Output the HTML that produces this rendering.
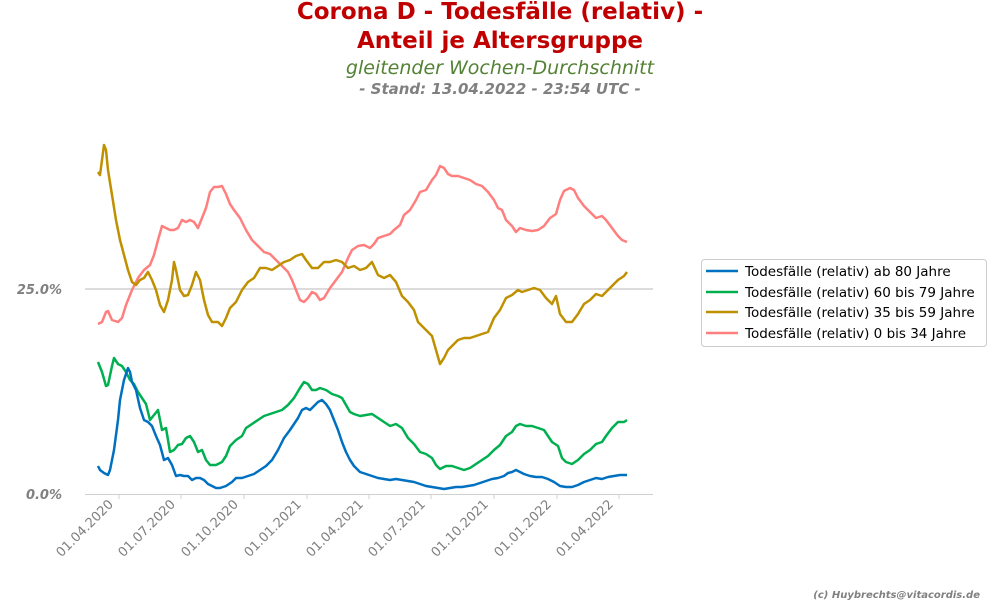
<!DOCTYPE html>
<html><head><meta charset="utf-8"><style>
body{margin:0;background:#fff;width:1000px;height:600px;overflow:hidden;font-family:"Liberation Sans","DejaVu Sans",sans-serif}
</style></head><body>
<svg width="1000" height="600" viewBox="0 0 1000 600" xmlns="http://www.w3.org/2000/svg" font-family="DejaVu Sans, Liberation Sans, sans-serif">
<text x="500" y="19" text-anchor="middle" font-size="23" font-weight="bold" fill="#c00000">Corona D - Todesfälle (relativ) -</text>
<text x="500" y="48" text-anchor="middle" font-size="23" font-weight="bold" fill="#c00000">Anteil je Altersgruppe</text>
<text x="500" y="74" text-anchor="middle" font-size="19" font-style="italic" fill="#548235">gleitender Wochen-Durchschnitt</text>
<text x="500" y="94" text-anchor="middle" font-size="15" font-style="italic" font-weight="bold" fill="#808080">- Stand: 13.04.2022 - 23:54 UTC -</text>
<line x1="85" y1="289" x2="653" y2="289" stroke="#d0d0d0" stroke-width="1.5"/>
<line x1="85" y1="494.5" x2="653" y2="494.5" stroke="#d0d0d0" stroke-width="1"/>
<text x="62" y="294" text-anchor="end" font-size="13" font-style="italic" font-weight="bold" fill="#808080">25.0%</text>
<text x="62" y="499" text-anchor="end" font-size="13" font-style="italic" font-weight="bold" fill="#808080">0.0%</text>
<g stroke="#d0d0d0"><line x1="119" y1="494" x2="119" y2="499"/><line x1="181" y1="494" x2="181" y2="499"/><line x1="244" y1="494" x2="244" y2="499"/><line x1="307" y1="494" x2="307" y2="499"/><line x1="369" y1="494" x2="369" y2="499"/><line x1="431" y1="494" x2="431" y2="499"/><line x1="494" y1="494" x2="494" y2="499"/><line x1="557" y1="494" x2="557" y2="499"/><line x1="619" y1="494" x2="619" y2="499"/></g>
<g font-size="13" fill="#808080" text-anchor="end">
<text transform="translate(114,505) rotate(-45)">01.04.2020</text>
<text transform="translate(176,505) rotate(-45)">01.07.2020</text>
<text transform="translate(239,505) rotate(-45)">01.10.2020</text>
<text transform="translate(302,505) rotate(-45)">01.01.2021</text>
<text transform="translate(364,505) rotate(-45)">01.04.2021</text>
<text transform="translate(426,505) rotate(-45)">01.07.2021</text>
<text transform="translate(489,505) rotate(-45)">01.10.2021</text>
<text transform="translate(552,505) rotate(-45)">01.01.2022</text>
<text transform="translate(614,505) rotate(-45)">01.04.2022</text>
</g>
<g fill="none" stroke-width="2.5" stroke-linejoin="round">
<polyline stroke="#ff7f7f" points="98,324 102,322 106,312 108,311 112,320 118,322 122,318 126,305 132,290 138,278 144,270 150,265 154,255 158,240 162,226 166,228 170,230 174,230 178,228 182,220 186,222 190,220 194,222 198,228 202,218 206,208 210,192 214,187 218,187 222,186 226,194 230,204 234,210 240,218 246,230 252,240 258,246 264,252 270,254 276,260 282,266 288,272 292,280 296,290 300,300 304,302 308,298 312,292 316,294 320,300 324,298 330,288 336,280 342,272 348,258 352,250 358,246 364,245 370,248 374,244 378,238 384,236 390,234 394,230 400,225 404,215 410,210 416,200 420,192 426,190 432,180 436,175 440,166 444,168 448,174 452,176 458,176 464,178 470,180 476,184 482,186 488,192 494,200 498,208 502,210 506,220 512,226 516,232 520,228 526,230 532,231 538,230 544,226 550,218 556,214 560,200 564,191 570,188 574,190 578,198 584,206 590,212 596,218 602,216 606,220 612,228 618,236 622,240 627,242"/>
<polyline stroke="#bf9000" points="98,172 100,175 102,160 104,145 106,150 108,170 112,195 116,220 120,240 124,255 128,270 132,282 136,285 140,280 144,278 148,272 152,280 156,290 160,305 164,312 168,300 172,280 174,262 176,270 180,290 184,296 188,295 192,285 196,272 200,280 204,300 208,315 212,322 218,322 222,326 226,318 230,308 236,302 242,290 248,282 254,278 260,268 266,268 272,270 278,266 284,262 290,260 296,256 302,254 306,260 312,268 318,268 324,262 330,262 336,260 342,262 348,268 354,266 360,270 366,268 372,262 378,275 384,278 390,275 396,282 402,296 408,302 414,310 418,322 422,326 426,330 432,336 436,350 440,364 444,358 448,350 452,346 458,340 464,338 470,338 476,336 482,334 488,332 494,318 500,310 506,298 512,295 518,290 522,292 528,290 534,288 540,290 546,298 552,304 556,296 560,314 566,322 572,322 578,314 584,304 590,300 596,294 602,296 606,292 612,286 618,280 624,276 627,272"/>
<polyline stroke="#00b050" points="98,362 102,372 106,386 108,385 112,366 114,358 118,364 122,366 126,372 130,380 134,384 138,392 142,398 146,404 150,420 154,415 158,410 162,430 166,428 170,452 174,450 178,445 182,444 186,438 190,436 194,442 198,452 202,450 206,460 210,465 216,465 222,462 226,456 230,446 236,440 242,436 246,428 252,424 258,420 264,416 270,414 276,412 282,410 288,405 294,398 300,388 304,382 308,384 312,390 316,390 320,388 326,390 332,394 338,396 342,398 346,405 350,412 354,414 360,416 366,415 372,414 378,418 384,422 390,426 396,424 402,428 408,438 414,444 420,452 426,454 432,458 436,465 440,469 446,466 452,466 458,468 464,470 470,468 476,464 482,460 488,456 494,450 500,445 506,436 512,432 516,426 520,424 526,426 532,426 538,428 544,430 548,436 552,442 558,446 562,458 566,462 572,464 578,460 584,454 590,450 596,444 602,442 606,436 612,428 618,422 624,422 627,420"/>
<polyline stroke="#0070c0" points="98,466 100,470 104,473 108,475 110,470 114,450 118,420 120,400 124,380 128,368 130,372 132,382 136,390 140,408 144,420 148,422 152,426 156,436 160,445 164,460 168,458 172,465 176,476 180,475 184,476 188,476 192,480 196,478 200,478 204,480 208,484 212,486 216,488 220,488 226,486 232,482 236,478 242,478 248,476 254,474 260,470 266,466 272,460 278,450 284,438 290,430 294,424 298,418 302,410 306,408 310,410 314,406 318,402 322,400 326,404 330,410 334,420 338,430 342,442 346,452 350,460 354,466 360,472 366,474 372,476 378,478 384,479 390,480 396,479 402,480 408,481 414,482 420,484 426,486 432,487 438,488 444,489 450,488 456,487 462,487 468,486 474,485 480,483 486,481 492,479 498,478 504,476 508,473 512,472 516,470 520,472 524,474 530,476 536,477 542,477 548,479 554,482 560,486 566,487 572,487 578,485 584,482 590,480 596,478 602,479 608,477 614,476 620,475 627,475"/>
</g>
<rect x="701.5" y="259.5" width="285" height="87" rx="3" fill="#fff" stroke="#cccccc"/>
<g stroke-width="2.5"><line x1="706" y1="271" x2="738" y2="271" stroke="#0070c0"/><line x1="706" y1="292" x2="738" y2="292" stroke="#00b050"/><line x1="706" y1="312" x2="738" y2="312" stroke="#bf9000"/><line x1="706" y1="333" x2="738" y2="333" stroke="#ff7f7f"/></g>
<g font-size="13.5" fill="#000"><text x="745" y="276">Todesfälle (relativ) ab 80 Jahre</text><text x="745" y="297">Todesfälle (relativ) 60 bis 79 Jahre</text><text x="745" y="317">Todesfälle (relativ) 35 bis 59 Jahre</text><text x="745" y="338">Todesfälle (relativ) 0 bis 34 Jahre</text></g>
<text x="980" y="598" text-anchor="end" font-size="10" font-style="italic" font-weight="bold" fill="#808080">(c) Huybrechts@vitacordis.de</text>
</svg>
</body></html>
